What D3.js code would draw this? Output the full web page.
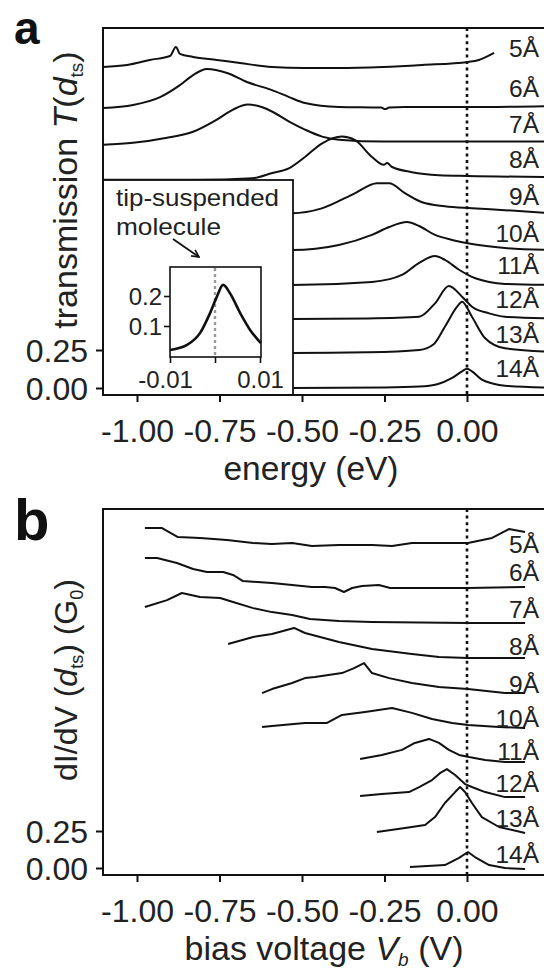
<!DOCTYPE html>
<html><head><meta charset="utf-8">
<script src="https://cdn.jsdelivr.net/npm/d3@7"></script>
<style>
html,body{margin:0;padding:0;background:#fff;}
svg{display:block;font-family:"Liberation Sans",Arial,sans-serif;}
</style></head>
<body><svg id="c" width="544" height="977"></svg>
<script>
// ---------- data ----------
const xTicks = [-1.00, -0.75, -0.50, -0.25, 0.00];
const yTicks = [0.00, 0.25];
const curveLabels = ["5Å","6Å","7Å","8Å","9Å","10Å","11Å","12Å","13Å","14Å"];

// panel a: transmission T(d_ts) vs energy (eV), and vertical offsets of each trace
const offsetsA = [2.112, 1.842, 1.60, 1.37, 1.15, 0.908, 0.678, 0.454, 0.23, 0];
const a5 = [[-1.103,0],[-1.03,0.013],[-0.961,0.046],[-0.9,0.072],[-0.882,0.132],[-0.87,0.086],[-0.83,0.066],[-0.758,0.046],[-0.688,0.026],[-0.591,0],[-0.491,-0.007],[-0.388,-0.007],[-0.255,0],[-0.136,0.013],[0.003,0.033],[0.036,0.046],[0.082,0.092]];
const a6 = [[-1.103,0],[-1.012,0.02],[-0.93,0.072],[-0.87,0.151],[-0.83,0.217],[-0.788,0.257],[-0.727,0.23],[-0.667,0.171],[-0.591,0.118],[-0.539,0.072],[-0.491,0.033],[-0.388,0.007],[-0.26,0.003],[-0.248,-0.007],[-0.236,0.003],[-0.188,0.007],[0.003,0.007],[0.25,0.013]];
const a7 = [[-1.103,0],[-1.012,0.013],[-0.909,0.046],[-0.83,0.086],[-0.758,0.166],[-0.709,0.232],[-0.664,0.265],[-0.618,0.245],[-0.591,0.219],[-0.539,0.153],[-0.491,0.1],[-0.439,0.054],[-0.388,0.034],[-0.255,0.021],[0.003,0.021],[0.25,0.021]];
const a8 = [[-1.103,0],[-0.82,0],[-0.65,0.01],[-0.59,0.045],[-0.54,0.075],[-0.491,0.15],[-0.439,0.24],[-0.379,0.284],[-0.339,0.26],[-0.288,0.15],[-0.252,0.098],[-0.242,0.111],[-0.227,0.084],[-0.167,0.05],[-0.085,0.03],[0.003,0.025],[0.25,0.018]];
const a9 = [[-1.103,0],[-0.53,0],[-0.44,0.032],[-0.34,0.131],[-0.273,0.197],[-0.236,0.197],[-0.188,0.132],[-0.136,0.072],[-0.067,0.046],[0.015,0.033],[0.115,0.02],[0.25,0]];
const a10 = [[-1.103,0],[-0.53,0],[-0.388,0.033],[-0.288,0.099],[-0.236,0.151],[-0.182,0.184],[-0.145,0.158],[-0.097,0.099],[-0.045,0.066],[0.015,0.039],[0.115,0.013],[0.25,0]];
const a11 = [[-1.103,0],[-0.53,0],[-0.288,0.02],[-0.197,0.066],[-0.145,0.145],[-0.097,0.19],[-0.067,0.165],[-0.024,0.1],[0.015,0.053],[0.067,0.02],[0.115,0.007],[0.25,0]];
const a12 = [[-1.103,0],[-0.53,0],[-0.3,0.004],[-0.145,0.015],[-0.097,0.103],[-0.055,0.217],[-0.015,0.147],[0.015,0.081],[0.067,0.037],[0.115,0.015],[0.25,0.005]];
const a13 = [[-1.103,0],[-0.53,0],[-0.3,0.005],[-0.145,0.02],[-0.1,0.06],[-0.067,0.173],[-0.03,0.305],[-0.015,0.338],[0.015,0.239],[0.055,0.097],[0.115,0.031],[0.25,0.008]];
const a14 = [[-1.103,0],[-0.53,0],[-0.25,0.004],[-0.145,0.01],[-0.09,0.025],[-0.045,0.066],[-0.015,0.11],[0,0.127],[0.015,0.11],[0.045,0.055],[0.08,0.028],[0.115,0.015],[0.25,0.003]];

// inset: tip-suspended molecule
const insetE = [-0.01,-0.0062,-0.0033,-0.0011,0.0004,0.0018,0.0033,0.0056,0.0078,0.0102];
const insetT = [0.02,0.037,0.077,0.143,0.197,0.237,0.21,0.143,0.087,0.043];
const insetXTicks = [-0.01, 0, 0.01];
const insetXLabels = ["-0.01", "", "0.01"];
const insetYTicks = [0.1, 0.2];

// panel b: dI/dV (G0) vs bias voltage (V), and vertical offsets
const offsetsB = [2.189, 1.892, 1.655, 1.419, 1.182, 0.953, 0.73, 0.486, 0.243, 0];
const b5 = [[-0.976,0.108],[-0.924,0.108],[-0.876,0.047],[-0.809,0.041],[-0.727,0.027],[-0.648,0.007],[-0.591,0],[-0.53,0.007],[-0.47,-0.014],[-0.388,-0.007],[-0.288,-0.007],[-0.227,-0.014],[-0.167,0.007],[-0.085,0.007],[0.003,0.007],[0.076,0.041],[0.127,0.101],[0.176,0.081]];
const b6 = [[-0.976,0.203],[-0.939,0.203],[-0.879,0.169],[-0.83,0.128],[-0.788,0.108],[-0.739,0.108],[-0.709,0.088],[-0.679,0.047],[-0.591,0.034],[-0.53,0.02],[-0.47,0.007],[-0.43,0.007],[-0.4,0],[-0.373,-0.027],[-0.348,0],[-0.318,0.014],[-0.267,0.02],[-0.233,0],[0.003,0],[0.176,0.007]];
const b7 = [[-0.976,0.108],[-0.909,0.155],[-0.864,0.203],[-0.809,0.176],[-0.748,0.169],[-0.709,0.142],[-0.648,0.101],[-0.591,0.074],[-0.53,0.054],[-0.476,0.027],[-0.388,0.014],[-0.288,0.007],[0.003,0],[0.176,0]];
const b8 = [[-0.724,0.095],[-0.648,0.142],[-0.591,0.162],[-0.524,0.203],[-0.491,0.169],[-0.388,0.108],[-0.288,0.061],[-0.167,0.027],[-0.085,0.007],[0.003,0],[0.176,0]];
const b9 = [[-0.621,0],[-0.591,0.027],[-0.53,0.068],[-0.491,0.101],[-0.461,0.108],[-0.379,0.135],[-0.342,0.169],[-0.312,0.203],[-0.288,0.135],[-0.236,0.101],[-0.167,0.068],[-0.085,0.041],[0.003,0.027],[0.115,0],[0.176,0]];
const b10 = [[-0.621,0],[-0.591,0.007],[-0.491,0.027],[-0.424,0.027],[-0.379,0.081],[-0.309,0.101],[-0.227,0.128],[-0.167,0.095],[-0.106,0.054],[-0.045,0.027],[0.003,0.014],[0.097,0],[0.176,-0.007]];
const b11 = [[-0.324,0.007],[-0.258,0.034],[-0.197,0.068],[-0.158,0.115],[-0.115,0.142],[-0.085,0.115],[-0.055,0.068],[-0.024,0.034],[0.006,0.02],[0.055,0],[0.115,-0.014],[0.176,-0.014]];
const b12 = [[-0.324,0],[-0.258,0.014],[-0.176,0.027],[-0.145,0.061],[-0.106,0.108],[-0.082,0.155],[-0.061,0.182],[-0.036,0.142],[-0.006,0.081],[0.015,0.061],[0.055,0.027],[0.115,-0.007],[0.176,-0.007]];
const b13 = [[-0.273,0],[-0.188,0.027],[-0.127,0.047],[-0.097,0.101],[-0.067,0.196],[-0.036,0.27],[-0.021,0.304],[-0.006,0.27],[0.015,0.196],[0.045,0.101],[0.097,0.034],[0.176,-0.007]];
const b14 = [[-0.173,0.007],[-0.067,0.02],[-0.024,0.068],[0.003,0.108],[0.024,0.074],[0.067,0.02],[0.115,0],[0.176,-0.007]];

const seriesA = [a5,a6,a7,a8,a9,a10,a11,a12,a13,a14];
const seriesB = [b5,b6,b7,b8,b9,b10,b11,b12,b13,b14];

// ---------- drawing ----------
const svg = d3.select("#c");
svg.append("rect").attr("width",544).attr("height",977).attr("fill","#fff");

const FS = 32;
const FONT = "Liberation Sans";
const INK = "#222";
const fmt2 = d => d.toFixed(2);          // plain hyphen-minus, as in the figure
const fmt1 = d => d.toFixed(1);
const frameLeft = 103, frameRight = 560;

function panel(cfg){
  const g = svg.append("g");
  const x = d3.scaleLinear().domain([-1, 0]).range([137, 467]);
  const y = d3.scaleLinear().domain([0, 0.25]).range([cfg.y0, cfg.y25]);

  const clipId = "clip" + cfg.name;
  svg.append("clipPath").attr("id", clipId).append("rect")
    .attr("x", frameLeft).attr("y", cfg.top).attr("width", frameRight-frameLeft).attr("height", cfg.bottom-cfg.top);

  const line = d3.line().x(d=>x(d[0])).curve(cfg.curve);
  const cg = g.append("g").attr("clip-path", `url(#${clipId})`);
  cfg.series.forEach((s,i)=>{
    cg.append("path")
      .attr("d", line.y(d=>y(d[1]+cfg.offsets[i]))(s))
      .attr("fill","none").attr("stroke","#111").attr("stroke-width",2)
      .attr("stroke-linejoin","round");
  });

  // dotted zero line
  g.append("line").attr("x1",x(0)).attr("x2",x(0)).attr("y1",cfg.top).attr("y2",cfg.bottom)
    .attr("stroke","#111").attr("stroke-width",2.6).attr("stroke-dasharray","3,3.6");

  if (cfg.after) cfg.after(g, x, y);

  // frame
  g.append("path").attr("d",`M${frameRight},${cfg.top}H${frameLeft}V${cfg.bottom}H${frameRight}`)
    .attr("fill","none").attr("stroke","#111").attr("stroke-width",2);

  // axes
  const ax = g.append("g").attr("transform",`translate(0,${cfg.bottom})`)
    .call(d3.axisBottom(x).tickValues(xTicks).tickFormat(fmt2).tickSize(7));
  ax.select(".domain").remove();
  ax.selectAll("line").attr("stroke","#111").attr("stroke-width",2);
  ax.selectAll("text").attr("font-size",FS).attr("font-family",FONT).attr("fill",INK)
    .attr("y",cfg.xLabelBase - cfg.bottom).attr("dy",0);

  const ay = g.append("g").attr("transform",`translate(${frameLeft},0)`)
    .call(d3.axisLeft(y).tickValues(yTicks).tickFormat(fmt2).tickSize(7).tickPadding(8));
  ay.select(".domain").remove();
  ay.selectAll("line").attr("stroke","#111").attr("stroke-width",2);
  ay.selectAll("text").attr("font-size",FS).attr("font-family",FONT).attr("fill",INK).attr("dy","0.36em");

  // curve labels
  curveLabels.forEach((t,i)=>{
    g.append("text").attr("x",539).attr("y",cfg.labelBase[i]).attr("text-anchor","end")
      .attr("font-size",24.5).attr("fill",INK).text(t);
  });

  // panel letter
  g.append("text").attr("x",cfg.letterX).attr("y",cfg.letterBase).attr("font-weight","bold")
    .attr("font-size",cfg.letterSize).attr("fill","#111").text(cfg.name);

  return {x,y,g};
}

// ---------- panel a ----------
panel({
  name:"a", top:28, bottom:395, y0:388, y25:350, letterX:14, letterBase:44, letterSize:46,
  xLabelBase:442, curve:d3.curveMonotoneX, series:seriesA, offsets:offsetsA,
  labelBase:[57,97,133,168,205,242,274,308,343,377],
  after:(g)=>{
    // inset box
    g.append("rect").attr("x",frameLeft).attr("y",180).attr("width",190).attr("height",215)
      .attr("fill","#fff").attr("stroke","#111").attr("stroke-width",1.8);
    g.append("text").attr("x",116).attr("y",206).attr("font-size",24).attr("fill",INK)
      .attr("textLength",163).attr("lengthAdjust","spacingAndGlyphs").text("tip-suspended");
    g.append("text").attr("x",116).attr("y",235).attr("font-size",24).attr("fill",INK)
      .attr("textLength",105).attr("lengthAdjust","spacingAndGlyphs").text("molecule");
    // arrow
    svg.append("defs").append("marker").attr("id","arr").attr("viewBox","0 0 10 10")
      .attr("refX",9).attr("refY",5).attr("markerWidth",9).attr("markerHeight",9)
      .attr("markerUnits","userSpaceOnUse").attr("orient","auto")
      .append("path").attr("d","M1,1L9,5L1,9").attr("fill","none").attr("stroke","#111").attr("stroke-width",1.8);
    g.append("line").attr("x1",173).attr("y1",239).attr("x2",199).attr("y2",257)
      .attr("stroke","#111").attr("stroke-width",1.8).attr("marker-end","url(#arr)");

    const xi = d3.scaleLinear().domain([-0.01,0.01]).range([170,260]);
    const yi = d3.scaleLinear().domain([0,0.1]).range([356,326]);
    g.append("rect").attr("x",170).attr("y",267).attr("width",91).attr("height",90)
      .attr("fill","#fff").attr("stroke","#111").attr("stroke-width",1.6);
    g.append("line").attr("x1",xi(0)).attr("x2",xi(0)).attr("y1",268).attr("y2",356)
      .attr("stroke","#999").attr("stroke-width",2.4).attr("stroke-dasharray","3,3");
    g.append("path").attr("d", d3.line().x((d,i)=>xi(insetE[i])).y(d=>yi(d)).curve(d3.curveMonotoneX)(insetT))
      .attr("fill","none").attr("stroke","#111").attr("stroke-width",2.6);
    const ix = g.append("g").attr("transform","translate(0,357)")
      .call(d3.axisBottom(xi).tickValues(insetXTicks).tickFormat((d,i)=>insetXLabels[i]).tickSize(6));
    ix.select(".domain").remove();
    ix.selectAll("line").attr("stroke","#111").attr("stroke-width",1.6);
    ix.selectAll("text").attr("font-size",24).attr("font-family",FONT).attr("fill",INK)
      .attr("y",31).attr("dy",0).attr("dx",d=>d<0?-5:0);
    const iy = g.append("g").attr("transform","translate(170,0)")
      .call(d3.axisLeft(yi).tickValues(insetYTicks).tickFormat(fmt1).tickSize(6).tickPadding(2));
    iy.select(".domain").remove();
    iy.selectAll("line").attr("stroke","#111").attr("stroke-width",1.6);
    iy.selectAll("text").attr("font-size",24).attr("font-family",FONT).attr("fill",INK).attr("dy","0.36em");
  }
});

// ---------- panel b ----------
panel({
  name:"b", top:509, bottom:875, y0:868, y25:831, letterX:14, letterBase:540, letterSize:58,
  xLabelBase:922, curve:d3.curveLinear, series:seriesB, offsets:offsetsB,
  labelBase:[553,581,618,655,693,727,760,792,827,863]
});

// ---------- axis titles ----------
svg.append("text").attr("x",311).attr("y",480).attr("text-anchor","middle")
  .attr("font-size",33.5).attr("fill",INK).text("energy (eV)");
const tb = svg.append("text").attr("x",324).attr("y",960).attr("text-anchor","middle")
  .attr("font-size",34).attr("fill",INK);
tb.append("tspan").text("bias voltage ");
tb.append("tspan").attr("font-style","italic").text("V");
tb.append("tspan").attr("font-size",19).attr("font-style","italic").attr("dy",6).text("b");
tb.append("tspan").attr("dy",-6).text(" (V)");

const ya = svg.append("text").attr("transform","translate(77,190) rotate(-90)")
  .attr("text-anchor","middle").attr("font-size",34).attr("fill",INK);
ya.append("tspan").text("transmission ");
ya.append("tspan").attr("font-style","italic").text("T");
ya.append("tspan").text("(");
ya.append("tspan").attr("font-style","italic").text("d");
ya.append("tspan").attr("font-size",19).attr("dy",6).text("ts");
ya.append("tspan").attr("dy",-6).text(")");

const yb = svg.append("text").attr("transform","translate(77,680) rotate(-90)")
  .attr("text-anchor","middle").attr("font-size",32).attr("fill",INK);
yb.append("tspan").text("dI/dV (");
yb.append("tspan").attr("font-style","italic").text("d");
yb.append("tspan").attr("font-size",18).attr("dy",6).text("ts");
yb.append("tspan").attr("dy",-6).text(") (G");
yb.append("tspan").attr("font-size",18).attr("dy",6).text("0");
yb.append("tspan").attr("dy",-6).text(")");
</script>
</body></html>
